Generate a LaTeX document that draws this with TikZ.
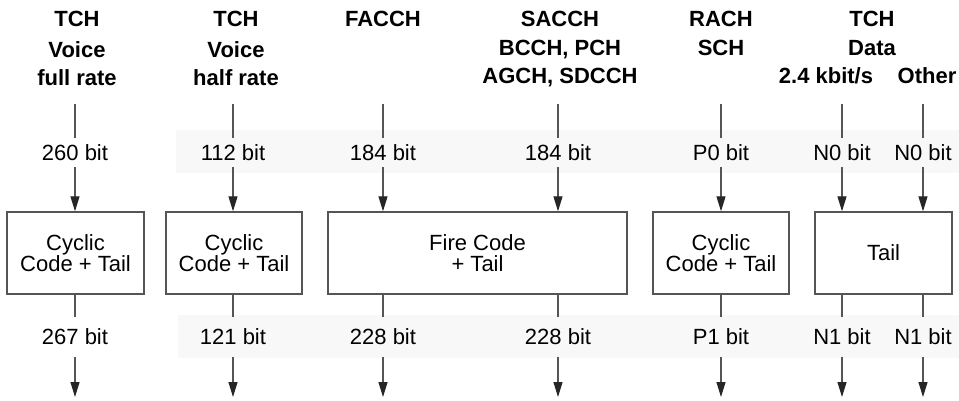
\documentclass[tikz,border=0pt]{standalone}
\usepackage{fontspec}
\setmainfont{Liberation Sans}
\usetikzlibrary{arrows.meta}
\definecolor{linecol}{HTML}{555555}
\definecolor{bandcol}{HTML}{F8F8F8}
\tikzset{
  hdr/.style={anchor=base, inner sep=0pt, font=\fontsize{22}{22}\selectfont\bfseries},
  toplbl/.style={anchor=base, inner sep=0pt, text height=22pt, text depth=7pt, font=\fontsize{22}{22}\selectfont},
  botlbl/.style={anchor=base, inner sep=0pt, text height=27pt, text depth=13pt, font=\fontsize{22}{22}\selectfont},
  codebox/.style={draw=linecol, line width=1.4pt, minimum height=82pt, inner sep=0pt, align=center, font=\fontsize{22}{21}\selectfont},
  conn/.style={draw=linecol, line width=1.2pt},
  arr/.style={conn, -{Triangle[width=9pt,length=15pt,color=black!85]}}
}
\begin{document}
\begin{tikzpicture}[x=1pt,y=-1pt]
\useasboundingbox (0,0) rectangle (959,400);
% faint background bands
\fill[bandcol] (176,130) rectangle (959,173);
\fill[bandcol] (178,315) rectangle (959,358);

% headers
\node[hdr] (h1a) at (77,26) {TCH};
\node[hdr] (h1b) at (77,57) {Voice};
\node[hdr] (h1c) at (77,85) {full rate};
\node[hdr] (h2a) at (236,26) {TCH};
\node[hdr] (h2b) at (236,57) {Voice};
\node[hdr] (h2c) at (236,85) {half rate};
\node[hdr] (h3a) at (383,26) {FACCH};
\node[hdr] (h4a) at (560,26) {SACCH};
\node[hdr] (h4b) at (560,55) {BCCH, PCH};
\node[hdr] (h4c) at (560,83) {AGCH, SDCCH};
\node[hdr] (h5a) at (721,26) {RACH};
\node[hdr] (h5b) at (721,55) {SCH};
\node[hdr] (h6a) at (872,26) {TCH};
\node[hdr] (h6b) at (872,55) {Data};
\node[hdr] (h6c) at (826,83) {2.4 kbit/s};
\node[hdr] (h6d) at (927,83) {Other};

% top line start points
\coordinate (t1) at (75,104);
\coordinate (t2) at (233,104);
\coordinate (t3) at (383,104);
\coordinate (t4) at (558,104);
\coordinate (t5) at (721,104);
\coordinate (t6) at (842,104);
\coordinate (t7) at (923,104);

% top labels
\node[toplbl] (a1) at (75,160) {260 bit};
\node[toplbl] (a2) at (233,160) {112 bit};
\node[toplbl] (a3) at (383,160) {184 bit};
\node[toplbl] (a4) at (558,160) {184 bit};
\node[toplbl] (a5) at (721,160) {P0 bit};
\node[toplbl] (a6) at (842,160) {N0 bit};
\node[toplbl] (a7) at (923,160) {N0 bit};

% boxes
\node[codebox, minimum width=137pt] (b1) at (75.5,253) {Cyclic\\Code + Tail};
\node[codebox, minimum width=136pt] (b2) at (234,253) {Cyclic\\Code + Tail};
\node[codebox, minimum width=299pt] (b3) at (477.5,253) {Fire Code\\+ Tail};
\node[codebox, minimum width=136pt] (b4) at (721,253) {Cyclic\\Code + Tail};
\node[codebox, minimum width=137pt] (b5) at (883.5,253) {Tail};

% bottom labels
\node[botlbl] (c1) at (75,344) {267 bit};
\node[botlbl] (c2) at (233,344) {121 bit};
\node[botlbl] (c3) at (383,344) {228 bit};
\node[botlbl] (c4) at (558,344) {228 bit};
\node[botlbl] (c5) at (721,344) {P1 bit};
\node[botlbl] (c6) at (842,344) {N1 bit};
\node[botlbl] (c7) at (923,344) {N1 bit};

% bottom end points
\coordinate (e1) at (75,397);
\coordinate (e2) at (233,397);
\coordinate (e3) at (383,397);
\coordinate (e4) at (558,397);
\coordinate (e5) at (721,397);
\coordinate (e6) at (842,397);
\coordinate (e7) at (923,397);

% connectors
\draw[conn] (t1) -- (a1.north);
\draw[conn] (t2) -- (a2.north);
\draw[conn] (t3) -- (a3.north);
\draw[conn] (t4) -- (a4.north);
\draw[conn] (t5) -- (a5.north);
\draw[conn] (t6) -- (a6.north);
\draw[conn] (t7) -- (a7.north);

\draw[arr] (a1.south) -- (a1.south |- b1.north);
\draw[arr] (a2.south) -- (a2.south |- b2.north);
\draw[arr] (a3.south) -- (a3.south |- b3.north);
\draw[arr] (a4.south) -- (a4.south |- b3.north);
\draw[arr] (a5.south) -- (a5.south |- b4.north);
\draw[arr] (a6.south) -- (a6.south |- b5.north);
\draw[arr] (a7.south) -- (a7.south |- b5.north);

\draw[conn] (c1.north |- b1.south) -- (c1.north);
\draw[conn] (c2.north |- b2.south) -- (c2.north);
\draw[conn] (c3.north |- b3.south) -- (c3.north);
\draw[conn] (c4.north |- b3.south) -- (c4.north);
\draw[conn] (c5.north |- b4.south) -- (c5.north);
\draw[conn] (c6.north |- b5.south) -- (c6.north);
\draw[conn] (c7.north |- b5.south) -- (c7.north);

\draw[arr] (c1.south) -- (e1);
\draw[arr] (c2.south) -- (e2);
\draw[arr] (c3.south) -- (e3);
\draw[arr] (c4.south) -- (e4);
\draw[arr] (c5.south) -- (e5);
\draw[arr] (c6.south) -- (e6);
\draw[arr] (c7.south) -- (e7);
\end{tikzpicture}
\end{document}
